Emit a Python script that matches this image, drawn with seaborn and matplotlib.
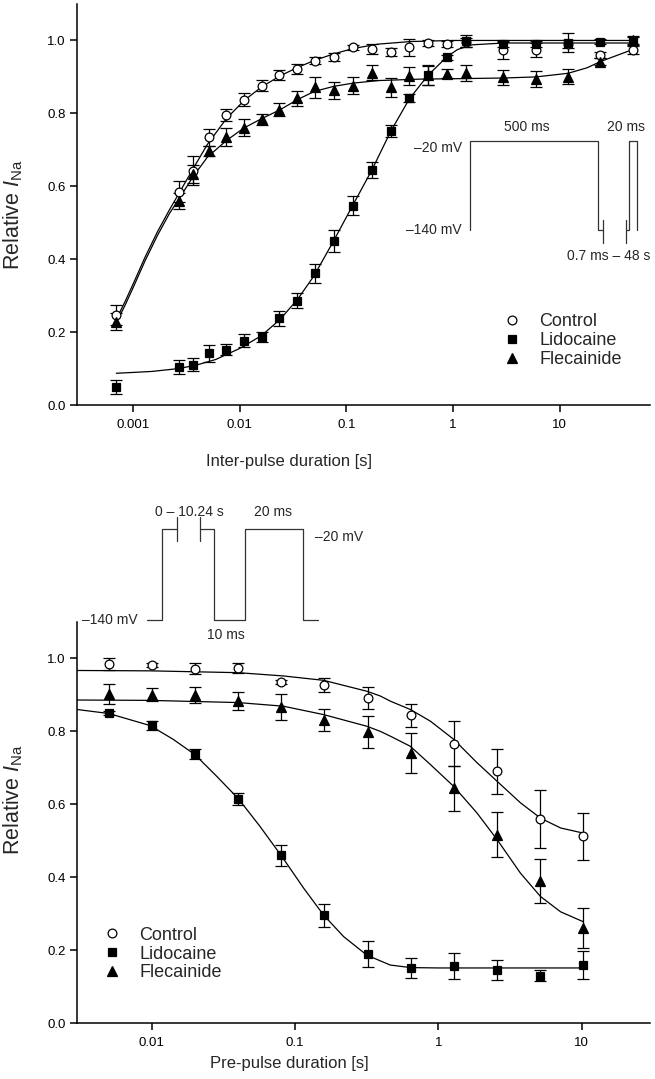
import matplotlib
matplotlib.use("Agg")
import matplotlib.pyplot as plt
import seaborn as sns
import pandas as pd
from matplotlib import font_manager
from matplotlib.lines import Line2D
from matplotlib.ticker import FixedLocator, NullLocator

# ---- data ----
# top panel: recovery vs inter-pulse duration
ipd = [0.0007, 0.0027, 0.0037, 0.0052, 0.0075, 0.011, 0.0164, 0.0236, 0.0344, 0.0508,
       0.076, 0.116, 0.174, 0.26, 0.39, 0.585, 0.875, 1.31, 2.96, 6.0, 12.0, 23.9, 48.2]
top_ctrl = [0.247, 0.585, 0.643, 0.734, 0.796, 0.837, 0.876, 0.906, 0.922, 0.945,
            0.954, 0.981, 0.976, 0.967, 0.981, 0.993, 0.991, 0.995, 0.974, 0.973, 0.99, 0.961, 0.973]
top_ctrl_err = [0.027, 0.029, 0.04, 0.023, 0.016, 0.018, 0.016, 0.014, 0.013, 0.009,
                0.011, 0.007, 0.013, 0.011, 0.023, 0.008, 0.008, 0.012, 0.024, 0.019, 0.012, 0.008, 0.011]
top_lido = [0.05, 0.105, 0.11, 0.142, 0.151, 0.176, 0.186, 0.238, 0.286, 0.361,
            0.451, 0.547, 0.645, 0.752, 0.842, 0.904, 0.954, 0.999, 0.99, 0.99, 0.994, 0.997, 0.999]
top_lido_err = [0.019, 0.019, 0.018, 0.023, 0.015, 0.018, 0.014, 0.02, 0.021, 0.025,
                0.03, 0.027, 0.021, 0.016, 0.012, 0.025, 0.007, 0.016, 0.007, 0.008, 0.027, 0.008, 0.011]
top_flec = [0.229, 0.56, 0.633, 0.697, 0.735, 0.761, 0.784, 0.81, 0.841, 0.871,
            0.863, 0.876, 0.912, 0.872, 0.903, 0.906, 0.909, 0.91, 0.899, 0.894, 0.901, 0.942, 1.0]
top_flec_err = [0.023, 0.021, 0.025, 0.014, 0.024, 0.024, 0.015, 0.018, 0.02, 0.029,
                0.024, 0.024, 0.021, 0.026, 0.024, 0.028, 0.013, 0.022, 0.021, 0.021, 0.021, 0.009, 0.011]

# fitted curves, top panel
fit_top_ctrl_x = [0.0007, 0.00085, 0.001, 0.0013, 0.0017, 0.0022, 0.0027, 0.0037, 0.005, 0.0075,
                  0.011, 0.016, 0.024, 0.035, 0.05, 0.076, 0.116, 0.2, 0.4, 1.0, 3.0, 48.2]
fit_top_ctrl_y = [0.235, 0.285, 0.33, 0.405, 0.475, 0.535, 0.58, 0.65, 0.715, 0.785,
                  0.835, 0.872, 0.903, 0.926, 0.945, 0.963, 0.978, 0.99, 0.997, 1.0, 1.0, 1.0]
fit_top_flec_x = [0.0007, 0.00085, 0.001, 0.0013, 0.0017, 0.0022, 0.0027, 0.0037, 0.005, 0.0075,
                  0.011, 0.016, 0.024, 0.035, 0.05, 0.076, 0.116, 0.2, 0.5, 1.0, 3.0, 6.0,
                  12.0, 18.0, 24.0, 35.0, 48.2]
fit_top_flec_y = [0.225, 0.275, 0.32, 0.395, 0.465, 0.525, 0.565, 0.628, 0.68, 0.725,
                  0.76, 0.785, 0.81, 0.838, 0.86, 0.874, 0.883, 0.89, 0.894, 0.895, 0.897, 0.9,
                  0.91, 0.925, 0.942, 0.96, 0.975]
fit_top_lido_x = [0.0007, 0.0015, 0.0027, 0.004, 0.006, 0.01, 0.016, 0.024, 0.035, 0.05,
                  0.076, 0.116, 0.174, 0.26, 0.39, 0.585, 0.875, 1.1, 1.5, 3.0, 48.2]
fit_top_lido_y = [0.087, 0.092, 0.1, 0.11, 0.125, 0.155, 0.19, 0.235, 0.29, 0.355,
                  0.45, 0.55, 0.645, 0.75, 0.84, 0.905, 0.955, 0.975, 0.988, 0.993, 0.993]

# bottom panel: availability vs pre-pulse duration
ppd = [0.005, 0.01, 0.02, 0.04, 0.08, 0.16, 0.32, 0.64, 1.28, 2.56, 5.12, 10.24]
bot_ctrl = [0.984, 0.982, 0.972, 0.973, 0.935, 0.927, 0.892, 0.844, 0.766, 0.69, 0.56, 0.512]
bot_ctrl_err = [0.016, 0.006, 0.015, 0.014, 0.005, 0.019, 0.031, 0.031, 0.062, 0.062, 0.079, 0.064]
bot_lido = [0.851, 0.817, 0.738, 0.615, 0.46, 0.295, 0.189, 0.151, 0.156, 0.145, 0.13, 0.159]
bot_lido_err = [0.006, 0.012, 0.013, 0.017, 0.028, 0.032, 0.036, 0.027, 0.035, 0.027, 0.015, 0.038]
bot_flec = [0.903, 0.901, 0.901, 0.883, 0.867, 0.831, 0.798, 0.741, 0.644, 0.516, 0.39, 0.26]
bot_flec_err = [0.028, 0.019, 0.022, 0.024, 0.035, 0.031, 0.044, 0.055, 0.062, 0.062, 0.06, 0.055]

fit_bot_ctrl_x = [0.003, 0.0097, 0.04, 0.0828, 0.158, 0.317, 0.393, 0.461, 0.637, 0.879,
                  1.28, 1.86, 2.57, 3.74, 5.16, 7.13, 10.24]
fit_bot_ctrl_y = [0.967, 0.966, 0.961, 0.952, 0.94, 0.91, 0.897, 0.883, 0.86, 0.828,
                  0.778, 0.714, 0.663, 0.604, 0.562, 0.535, 0.521]
fit_bot_flec_x = [0.003, 0.0097, 0.04, 0.0828, 0.158, 0.317, 0.393, 0.461, 0.637, 0.879,
                  1.28, 1.86, 2.57, 3.74, 5.16, 7.13, 10.24]
fit_bot_flec_y = [0.886, 0.885, 0.879, 0.869, 0.846, 0.814, 0.8, 0.787, 0.759, 0.709,
                  0.649, 0.576, 0.503, 0.411, 0.347, 0.305, 0.278]
fit_bot_lido_x = [0.003, 0.005, 0.0097, 0.0141, 0.02, 0.0283, 0.0402, 0.0569, 0.0807, 0.1146,
                  0.158, 0.218, 0.317, 0.461, 0.64, 1.0, 10.24]
fit_bot_lido_y = [0.86, 0.849, 0.816, 0.778, 0.736, 0.677, 0.615, 0.539, 0.457, 0.37,
                  0.296, 0.237, 0.186, 0.159, 0.152, 0.151, 0.151]

groups = ['Control', 'Lidocaine', 'Flecainide']
top_tick_vals = [0.001, 0.01, 0.1, 1, 10]
top_tick_labels = ['0.001', '0.01', '0.1', '1', '10']
bot_tick_vals = [0.01, 0.1, 1, 10]
bot_tick_labels = ['0.01', '0.1', '1', '10']

# pulse protocol schematics (figure pixel coordinates)
proto_top_a = ([470, 470, 598.3, 598.3, 602.7], [230, 140.7, 140.7, 230, 230])
proto_top_b = ([625.7, 629.3, 629.3, 636.7, 636.7], [230, 230, 140.7, 140.7, 230])
proto_top_breaks = [602.7, 625.7]
proto_bot_a = ([146.7, 161.7, 161.7, 176.7], [620, 620, 529.3, 529.3])
proto_bot_b = ([200.3, 214.3, 214.3, 245, 245, 303.3, 303.3, 318.3],
               [529.3, 529.3, 620, 620, 529.3, 529.3, 620, 620])
proto_bot_breaks = [176.7, 200.3]

# ---- style ----
sns.set_style("ticks")
names = {f.name for f in font_manager.fontManager.ttflist}
if 'Liberation Sans Narrow' in names:
    main_font = 'Liberation Sans Narrow'
    fs_tick, fs_lab, fs_ylab, fs_leg = 10.3, 13, 17, 14.5
else:
    main_font = 'Liberation Sans'
    fs_tick, fs_lab, fs_ylab, fs_leg = 9.5, 12, 15.5, 13
plt.rcParams['font.family'] = [main_font, 'DejaVu Sans']
plt.rcParams['mathtext.fontset'] = 'custom'
plt.rcParams['mathtext.rm'] = main_font
plt.rcParams['mathtext.it'] = main_font + ':italic'

styles = {
    'Control': dict(marker='o', mfc='white', ms=6.3),
    'Lidocaine': dict(marker='s', mfc='black', ms=6.0),
    'Flecainide': dict(marker='^', mfc='black', ms=7.0),
}

W, H = 655, 1079
fig = plt.figure(figsize=(W / 100, H / 100), dpi=100)
ax1 = fig.add_axes([77 / W, 1 - 405 / H, 573 / W, 401 / H])
ax2 = fig.add_axes([77 / W, 1 - 1023 / H, 573 / W, 401 / H])
ov = fig.add_axes([0, 0, 1, 1], zorder=10)
ov.set_xlim(0, W)
ov.set_ylim(H, 0)
ov.axis('off')
ov.patch.set_alpha(0)


def draw_panel(ax, x, series, fits):
    for (fx, fy) in fits:
        df = pd.DataFrame({'x': fx, 'y': fy})
        sns.lineplot(data=df, x='x', y='y', ax=ax, color='black', lw=0.9,
                     estimator=None, zorder=2)
    for g, (y, e) in zip(groups, series):
        st = styles[g]
        ax.errorbar(x, y, yerr=e, fmt='none', ecolor='black', elinewidth=0.9,
                    capsize=4.2, capthick=0.9, zorder=3)
        ax.plot(x, y, ls='none', marker=st['marker'], ms=st['ms'], mfc=st['mfc'],
                mec='black', mew=0.9, zorder=4)


draw_panel(ax1, ipd,
           [(top_ctrl, top_ctrl_err), (top_lido, top_lido_err), (top_flec, top_flec_err)],
           [(fit_top_ctrl_x, fit_top_ctrl_y), (fit_top_flec_x, fit_top_flec_y),
            (fit_top_lido_x, fit_top_lido_y)])
draw_panel(ax2, ppd,
           [(bot_ctrl, bot_ctrl_err), (bot_lido, bot_lido_err), (bot_flec, bot_flec_err)],
           [(fit_bot_ctrl_x, fit_bot_ctrl_y), (fit_bot_flec_x, fit_bot_flec_y),
            (fit_bot_lido_x, fit_bot_lido_y)])

for ax, xlim, tv, tl, xlab, xly, yly in [
        (ax1, (3e-4, 70), top_tick_vals, top_tick_labels, 'Inter-pulse duration [s]', -0.141, 0.474),
        (ax2, (0.003, 30), bot_tick_vals, bot_tick_labels, 'Pre-pulse duration [s]', -0.100, 0.556)]:
    ax.set_xscale('log')
    ax.set_xlim(*xlim)
    ax.set_ylim(0, 1.1)
    ax.xaxis.set_major_locator(FixedLocator(tv))
    ax.xaxis.set_minor_locator(NullLocator())
    ax.set_xticklabels(tl)
    ax.set_yticks([0.0, 0.2, 0.4, 0.6, 0.8, 1.0])
    ax.set_yticklabels(['0.0', '0.2', '0.4', '0.6', '0.8', '1.0'])
    ax.tick_params(axis='both', direction='out', length=5, width=1.1, labelsize=fs_tick,
                   color='black', labelcolor='black')
    ax.tick_params(axis='x', pad=5)
    ax.tick_params(axis='y', pad=3)
    for s in ['top', 'right']:
        ax.spines[s].set_visible(False)
    for s in ['left', 'bottom']:
        ax.spines[s].set_linewidth(1.1)
        ax.spines[s].set_color('black')
    ax.set_xlabel(xlab, fontsize=fs_lab)
    ax.xaxis.set_label_coords(0.37, xly)
    ax.xaxis.label.set_va('center')
    ax.set_ylabel(r'Relative $I_{\mathrm{Na}}$', fontsize=fs_ylab)
    ax.yaxis.set_label_coords(-0.112, yly)
    ax.yaxis.label.set_va('center')

# legends
handles = [Line2D([], [], ls='none', marker=styles[g]['marker'], ms=styles[g]['ms'],
                  mfc=styles[g]['mfc'], mec='black', mew=0.9) for g in groups]
for ax, anchor in [(ax1, (503.3, 313.5)), (ax2, (103.3, 926.8))]:
    ax.legend(handles, groups, loc='upper left', bbox_to_anchor=anchor,
              bbox_transform=ov.transData, frameon=False, fontsize=fs_leg,
              handlelength=1.0, handletextpad=1.0, labelspacing=0.1,
              borderpad=0, borderaxespad=0)

# protocol schematics
pc = '#333333'
pfs = 10
for xs, ys in [proto_top_a, proto_top_b, proto_bot_a, proto_bot_b]:
    ov.plot(xs, ys, color=pc, lw=0.9)
for bx in proto_top_breaks:
    ov.plot([bx, bx], [220, 242.7], color=pc, lw=0.9)
for bx in proto_bot_breaks:
    ov.plot([bx, bx], [517.3, 540.7], color=pc, lw=0.9)

pfont = ['Liberation Sans', 'DejaVu Sans']
ov.text(461.7, 148.3, '–20 mV', ha='right', va='center', fontsize=pfs, family=pfont)
ov.text(461.7, 230, '–140 mV', ha='right', va='center', fontsize=pfs, family=pfont)
ov.text(526.7, 126.7, '500 ms', ha='center', va='center', fontsize=pfs, family=pfont)
ov.text(625.7, 126.7, '20 ms', ha='center', va='center', fontsize=pfs, family=pfont)
ov.text(608.3, 256, '0.7 ms – 48 s', ha='center', va='center', fontsize=pfs, family=pfont)

ov.text(189, 511.7, '0 – 10.24 s', ha='center', va='center', fontsize=pfs, family=pfont)
ov.text(273.3, 511.7, '20 ms', ha='center', va='center', fontsize=pfs, family=pfont)
ov.text(315, 536.7, '–20 mV', ha='left', va='center', fontsize=pfs, family=pfont)
ov.text(137.3, 620, '–140 mV', ha='right', va='center', fontsize=pfs, family=pfont)
ov.text(226, 635, '10 ms', ha='center', va='center', fontsize=pfs, family=pfont)

fig.savefig('out.png', dpi=100)
